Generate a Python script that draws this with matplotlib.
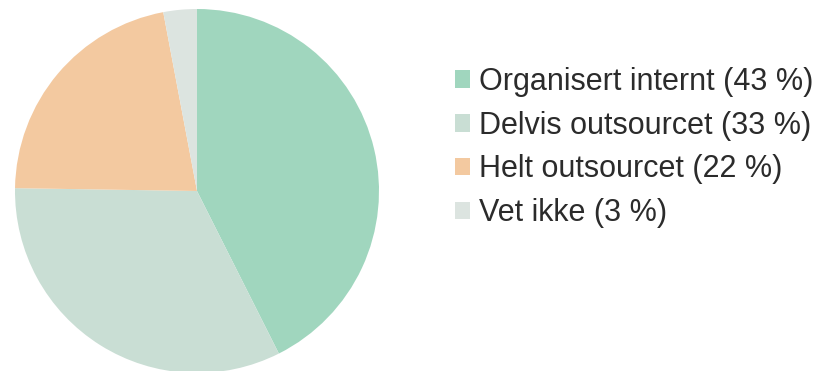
import matplotlib
matplotlib.use("Agg")
import matplotlib.pyplot as plt

labels = ["Organisert internt (43 %)", "Delvis outsourcet (33 %)", "Helt outsourcet (22 %)", "Vet ikke (3 %)"]
values = [43, 33, 22, 3]
colors = ["#A0D6BE", "#C9DED4", "#F3C9A0", "#DCE4E0"]

plt.rcParams['font.family'] = ['Liberation Sans', 'DejaVu Sans']

fig = plt.figure(figsize=(8.19, 3.71), dpi=100)
W, H = 819, 371
cx, cy, r = 197, 191, 182
ax = fig.add_axes([(cx - r) / W, (H - cy - r) / H, 2 * r / W, 2 * r / H])
wedges, _ = ax.pie(values, colors=colors, startangle=90, counterclock=False,
                   radius=1, wedgeprops=dict(linewidth=0))
ax.set_xlim(-1, 1)
ax.set_ylim(-1, 1)
ax.set_aspect('equal')
ax.axis('off')

leg = fig.legend(wedges, labels, loc='upper left', bbox_to_anchor=(455 / W, 1 - 67 / H),
                 frameon=False, fontsize=22, handlelength=0.5, handleheight=0.5,
                 handletextpad=0.3, labelspacing=0.45, borderpad=0, borderaxespad=0)
for t in leg.get_texts():
    t.set_color("#2b2b2b")

fig.savefig("out.png", dpi=100)
